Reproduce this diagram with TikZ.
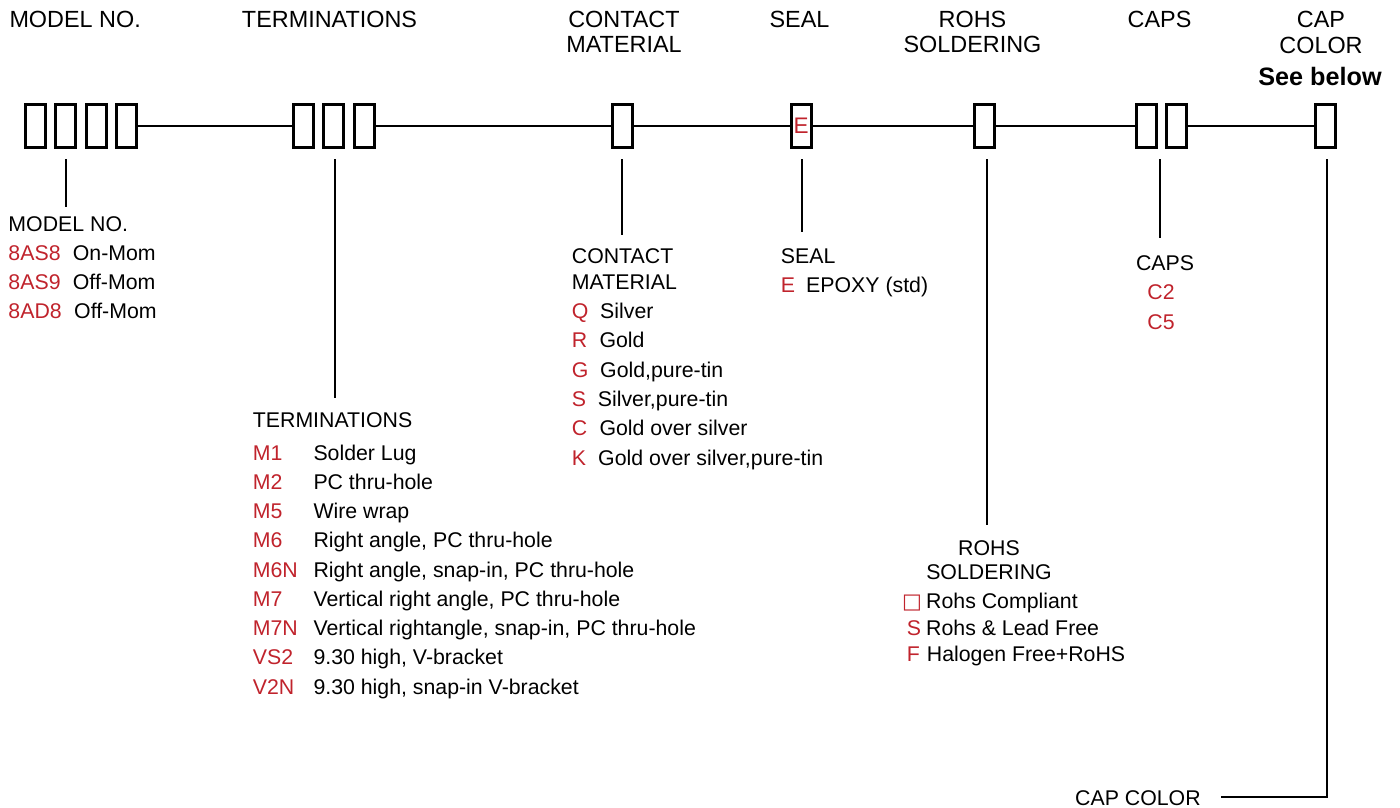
\documentclass[tikz,border=0pt]{standalone}
\usepackage{fontspec}
\setmainfont{Liberation Sans}
\newfontfamily\symfont{DejaVu Sans}
\definecolor{codered}{RGB}{192,35,44}
\begin{document}
\begin{tikzpicture}[x=1pt,y=-1pt,
  box/.style={draw, line width=3pt, fill=white, inner sep=0pt, minimum width=20pt, minimum height=43pt},
  mainline/.style={line width=2.8pt},
  tick/.style={line width=2pt},
  toplbl/.style={anchor=base, inner sep=0pt, font=\fontsize{23.4}{28}\selectfont},
  lbl/.style={anchor=base west, inner sep=0pt, font=\fontsize{21.3}{25}\selectfont},
  clbl/.style={anchor=base, inner sep=0pt, font=\fontsize{21.3}{25}\selectfont},
  code/.style={lbl, text=codered},
  ccode/.style={clbl, text=codered}
]
\useasboundingbox (0,0) rectangle (1400,808);

% ---- top labels
\node[toplbl, anchor=base west] (tModel) at (9.3,28) {MODEL NO.};
\node[toplbl] (tTerm) at (329.5,28) {TERMINATIONS};
\node[toplbl] (tCont1) at (624,28) {CONTACT};
\node[toplbl] (tCont2) at (624,53) {MATERIAL};
\node[toplbl] (tSeal) at (799.5,28) {SEAL};
\node[toplbl] (tRohs1) at (972.5,28) {ROHS};
\node[toplbl] (tRohs2) at (972.5,53) {SOLDERING};
\node[toplbl] (tCaps) at (1159.5,28) {CAPS};
\node[toplbl] (tCC1) at (1321,28) {CAP};
\node[toplbl] (tCC2) at (1321,54) {COLOR};
\node[toplbl, font=\fontsize{25.2}{28}\selectfont\bfseries] (tSee) at (1320,85) {See below};

% ---- boxes
\node[box] (m1) at (35.25,126) {};
\node[box] (m2) at (65.75,126) {};
\node[box] (m3) at (96,126) {};
\node[box] (m4) at (126.5,126) {};
\node[box] (t1) at (303.75,126) {};
\node[box] (t2) at (333.75,126) {};
\node[box] (t3) at (364.5,126) {};
\node[box] (cm) at (622.5,126) {};
\node[box, text=codered, font=\fontsize{22.5}{25}\selectfont] (se) at (801,126) {E};
\node[box] (ro) at (984.5,126) {};
\node[box] (p1) at (1146,126) {};
\node[box] (p2) at (1176.25,126) {};
\node[box] (cc) at (1325.5,126) {};

% ---- main line
\draw[mainline] (m4) -- (t1);
\draw[mainline] (t3) -- (cm);
\draw[mainline] (cm) -- (se);
\draw[mainline] (se) -- (ro);
\draw[mainline] (ro) -- (p1);
\draw[mainline] (p2) -- (cc);

% ---- ticks
\coordinate (kModelA) at (65.7,159);   \coordinate (kModelB) at (65.7,207);
\coordinate (kTermA) at (335,159);     \coordinate (kTermB) at (335,398);
\coordinate (kContA) at (622,159);     \coordinate (kContB) at (622,235);
\coordinate (kSealA) at (802.3,159);   \coordinate (kSealB) at (802.3,232);
\coordinate (kRohsA) at (986.7,159);   \coordinate (kRohsB) at (986.7,525);
\coordinate (kCapsA) at (1160.3,159);  \coordinate (kCapsB) at (1160.3,238);
\coordinate (kCCA) at (1327,159);      \coordinate (kCCB) at (1327,796.7);
\coordinate (kCCC) at (1221,796.7);
\draw[tick] (kModelA) -- (kModelB);
\draw[tick] (kTermA) -- (kTermB);
\draw[tick] (kContA) -- (kContB);
\draw[tick] (kSealA) -- (kSealB);
\draw[tick] (kRohsA) -- (kRohsB);
\draw[tick] (kCapsA) -- (kCapsB);
\draw[tick] (kCCA) -- (kCCB) -- (kCCC);

% ---- model list
\node[lbl] (lModel) at (8.3,231.7) {MODEL NO.};
\node[code] (mc1) at (8.3,260) {8AS8};  \node[lbl] (md1) at (72.7,260) {On-Mom};
\node[code] (mc2) at (8.3,289.3) {8AS9};  \node[lbl] (md2) at (72.7,289.3) {Off-Mom};
\node[code] (mc3) at (8.3,318.3) {8AD8};  \node[lbl] (md3) at (74,318.3) {Off-Mom};

% ---- terminations list
\node[lbl] (lTerm) at (252.7,427.3) {TERMINATIONS};
\foreach \c/\d [count=\i from 0] in {M1/Solder Lug, M2/PC thru-hole, M5/Wire wrap,
   M6/{Right angle, PC thru-hole}, M6N/{Right angle, snap-in, PC thru-hole},
   M7/{Vertical right angle, PC thru-hole}, M7N/{Vertical rightangle, snap-in, PC thru-hole},
   VS2/{9.30 high, V-bracket}, V2N/{9.30 high, snap-in V-bracket}}{
  \node[code] (tc\i) at (252.7,460+29.25*\i) {\c};
  \node[lbl] (td\i) at (313.3,460+29.25*\i) {\d};
}

% ---- contact material list
\node[lbl] (lCont1) at (571.7,263.3) {CONTACT};
\node[lbl] (lCont2) at (571.7,289) {MATERIAL};
\foreach \c/\d/\x [count=\i from 0] in {Q/Silver/600, R/Gold/599.3, G/{Gold,pure-tin}/600,
   S/{Silver,pure-tin}/597.7, C/Gold over silver/599.3, K/{Gold over silver,pure-tin}/598}{
  \node[code] (cc\i) at (571.7,318.5+29.3*\i) {\c};
  \node[lbl] (cd\i) at (\x,318.5+29.3*\i) {\d};
}

% ---- seal list
\node[lbl] (lSeal) at (780.7,263.3) {SEAL};
\node[code] (sc0) at (780.7,292.3) {E};
\node[lbl] (sd0) at (806,292.3) {EPOXY (std)};

% ---- caps list
\node[clbl] (lCaps) at (1165,270) {CAPS};
\node[ccode] (pc0) at (1161,299) {C2};
\node[ccode] (pc1) at (1161,329) {C5};

% ---- rohs list
\node[clbl] (lRohs1) at (989,555) {ROHS};
\node[clbl] (lRohs2) at (989,579) {SOLDERING};
\node[code, font=\fontsize{21}{25}\symfont] (rc0) at (902,608.8) {□};
\node[lbl] (rd0) at (926,608.3) {Rohs Compliant};
\node[code] (rc1) at (906.7,635) {S};
\node[lbl] (rd1) at (926,635) {Rohs \& Lead Free};
\node[code] (rc2) at (906.7,661.7) {F};
\node[lbl] (rd2) at (926.7,661.7) {Halogen Free+RoHS};

% ---- cap color
\node[lbl] (lCC) at (1075,805) {CAP COLOR};
\end{tikzpicture}
\end{document}
